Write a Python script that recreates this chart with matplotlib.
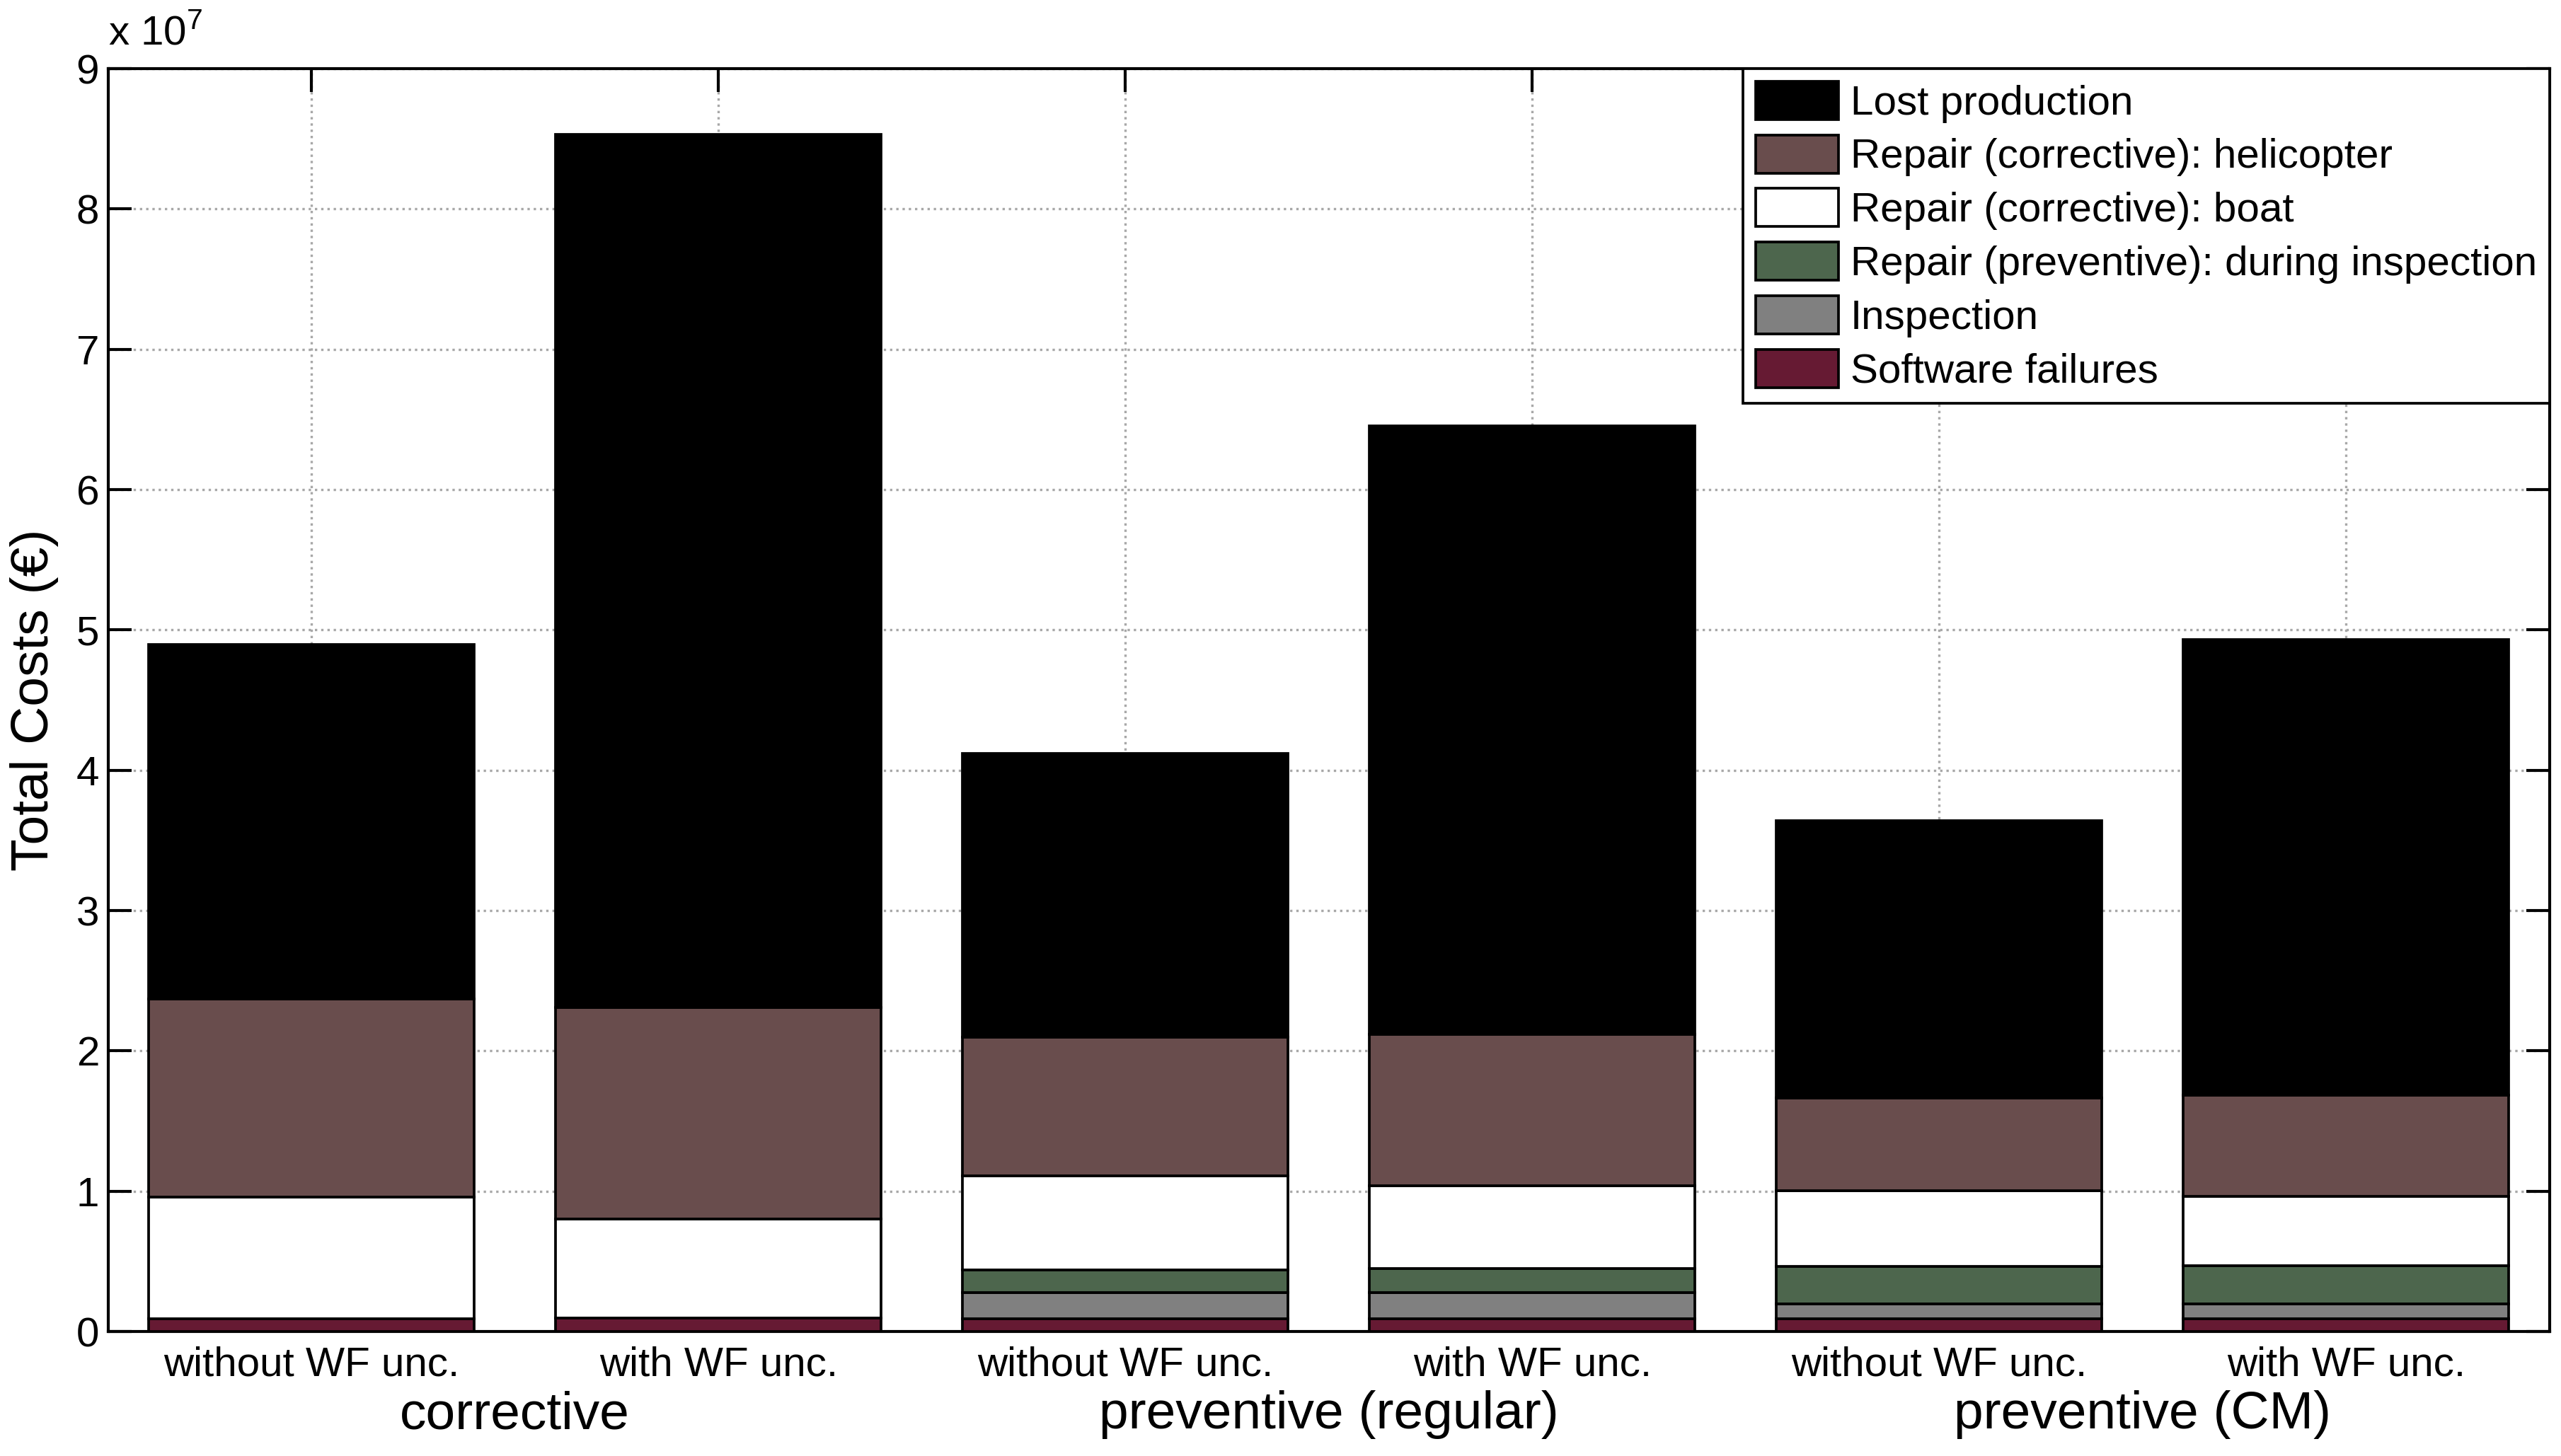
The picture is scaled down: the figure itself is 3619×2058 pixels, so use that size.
import numpy as np
import matplotlib
matplotlib.use("Agg")
import matplotlib.pyplot as plt
from matplotlib.transforms import blended_transform_factory

plt.rcParams['font.family'] = ['Liberation Sans', 'DejaVu Sans']
plt.rcParams['mathtext.fontset'] = 'custom'
plt.rcParams['mathtext.rm'] = 'Liberation Sans'

# data (in units of 1e7 EUR)
bar_labels = ["without WF unc.", "with WF unc."] * 3
groups = ["corrective", "preventive (regular)", "preventive (CM)"]
software = [0.093, 0.095, 0.093, 0.093, 0.093, 0.093]
inspection = [0.0, 0.0, 0.186, 0.186, 0.106, 0.106]
repair_prev = [0.0, 0.0, 0.160, 0.168, 0.267, 0.268]
repair_boat = [0.865, 0.705, 0.671, 0.590, 0.537, 0.497]
repair_heli = [1.41, 1.51, 0.99, 1.083, 0.659, 0.719]
lost_prod = [2.53, 6.22, 2.02, 4.335, 1.978, 3.247]

series = [
    ("Software failures", software, "#661a33"),
    ("Inspection", inspection, "#808080"),
    ("Repair (preventive): during inspection", repair_prev, "#4d664d"),
    ("Repair (corrective): boat", repair_boat, "#ffffff"),
    ("Repair (corrective): helicopter", repair_heli, "#694d4d"),
    ("Lost production", lost_prod, "#000000"),
]

fig = plt.figure(figsize=(3619 / 300, 2058 / 300), dpi=300)
ax = fig.add_axes([0.0422, 0.0855, 0.9533, 0.8673])

x = np.arange(1, 7)
bottom = np.zeros(6)
handles = []
for name, vals, col in series:
    vals = np.array(vals) * 1e7
    h = ax.bar(x, vals, 0.8, bottom=bottom, color=col, edgecolor='black',
               linewidth=0.9, label=name, zorder=3)
    handles.append(h)
    bottom += vals

ax.set_xlim(0.5, 6.5)
ax.set_ylim(0, 9e7)
ax.set_yticks(np.arange(0, 10) * 1e7)
ax.set_yticklabels([str(i) for i in range(10)])
ax.set_xticks(x)
ax.set_xticklabels(bar_labels)
ax.tick_params(direction='in', length=8, width=1.0, labelsize=14,
               top=True, right=True)
ax.tick_params(axis='x', pad=5)
ax.tick_params(axis='y', pad=3)
for s in ax.spines.values():
    s.set_linewidth(1.0)
ax.grid(True, linestyle=':', color='#a8a8a8', linewidth=0.8, zorder=0)
ax.set_axisbelow(True)

ax.set_ylabel("Total Costs (\u20ac)", fontsize=18, labelpad=6)
ax.text(0.0, 1.012, r"x 10$^{7}$", transform=ax.transAxes, fontsize=14,
        ha='left', va='bottom')

trans = blended_transform_factory(ax.transData, ax.transAxes)
for i, g in enumerate(groups):
    ax.text(1.5 + 2 * i, -0.066, g, transform=trans, fontsize=18,
            ha='center', va='center')

leg = ax.legend(handles[::-1], [s[0] for s in series][::-1],
                loc='upper right', borderaxespad=0, fontsize=14,
                fancybox=False, framealpha=1, edgecolor='black',
                handlelength=2.0, handleheight=1.05, labelspacing=0.29,
                handletextpad=0.3, borderpad=0.3)
leg.get_frame().set_linewidth(0.9)

fig.savefig("out.png", dpi=300)
